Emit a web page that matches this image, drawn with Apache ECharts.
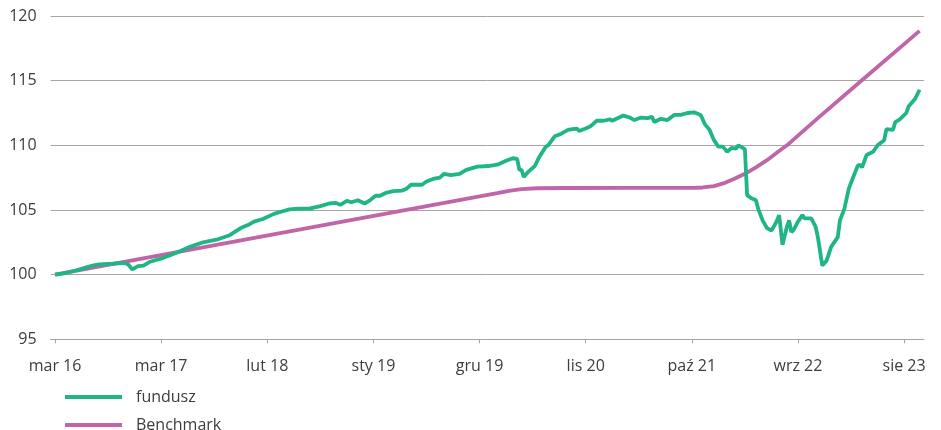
<!DOCTYPE html>
<html>
<head>
<meta charset="utf-8">
<script src="https://cdn.jsdelivr.net/npm/echarts@6/dist/echarts.min.js"></script>
<style>
  html, body { margin: 0; padding: 0; background: #fff; }
  #main { width: 941px; height: 430px; }
</style>
</head>
<body>
<div id="main"></div>
<script>
// x = tydzień od startu (co tydzień), opis co 48 tygodni
var tickWeeks = [0, 48, 96, 144, 192, 240, 288, 336, 384];
var tickLabels = ['mar 16', 'mar 17', 'lut 18', 'sty 19', 'gru 19', 'lis 20', 'paź 21', 'wrz 22', 'sie 23'];

var fundWeeks = [0, 4, 9, 13, 17, 20, 26, 31, 33, 35, 37.5, 40, 43, 49, 55, 61, 67, 73, 79, 84, 88, 90, 94, 99,
  103, 106, 110, 115, 120, 124, 127, 129, 132, 134, 137, 140, 142, 145, 147, 150, 153, 157, 159, 161, 166,
  168, 171, 174, 176, 179, 183, 186, 191, 196, 200, 204, 207, 209, 210, 211, 212, 214, 217, 219, 222, 223,
  226, 229, 232, 234, 236, 237, 240, 242, 245, 248, 251, 252, 257, 260, 262, 265, 268, 270, 271, 274, 277,
  280, 283, 286, 289, 292, 294, 296, 298, 300, 302, 304, 306, 308, 309, 311, 312, 313, 315, 317, 318, 320,
  322, 324, 326, 327.5, 329, 331, 332, 333, 334, 336, 338, 339, 342, 344, 345, 347, 349, 351, 354, 355, 357,
  359, 361, 363, 364, 365, 367, 370, 372, 375, 376, 379, 380, 382, 385, 386, 389, 391];
var fundValues = [100.0, 100.1, 100.3, 100.5, 100.7, 100.8, 100.85, 100.9, 100.8, 100.4, 100.65, 100.7, 101.0, 101.3,
  101.7, 102.15, 102.5, 102.7, 103.05, 103.6, 103.9, 104.1, 104.3, 104.7, 104.9, 105.05, 105.1, 105.1, 105.3,
  105.5, 105.55, 105.4, 105.7, 105.6, 105.75, 105.5, 105.7, 106.1, 106.1, 106.35, 106.45, 106.5, 106.65, 106.95,
  106.95, 107.2, 107.4, 107.5, 107.8, 107.7, 107.8, 108.1, 108.35, 108.4, 108.5, 108.8, 109.0, 108.95, 108.1,
  108.1, 107.55, 107.95, 108.4, 109.1, 109.9, 110.0, 110.7, 110.9, 111.2, 111.25, 111.3, 111.1, 111.3, 111.45,
  111.9, 111.9, 112.0, 111.9, 112.3, 112.15, 111.95, 112.15, 112.1, 112.2, 111.8, 112.05, 111.95, 112.35, 112.35,
  112.5, 112.55, 112.35, 111.6, 111.2, 110.4, 109.9, 109.9, 109.5, 109.8, 109.75, 110.0, 109.8, 109.7, 106.15,
  105.9, 105.75, 105.1, 104.2, 103.6, 103.4, 104.0, 104.6, 102.3, 103.7, 104.2, 103.3, 103.45, 104.1, 104.6,
  104.35, 104.35, 103.7, 102.9, 100.7, 101.1, 102.15, 102.9, 104.2, 105.1, 106.65, 107.55, 108.4, 108.5, 108.3,
  109.25, 109.5, 110.0, 110.4, 111.25, 111.2, 111.8, 112.0, 112.5, 113.0, 113.6, 114.3];

var benchWeeks = [0, 200, 206, 211, 218, 230, 260, 290, 293, 298, 303, 307, 312, 317, 322, 327, 331, 345, 364, 391];
var benchValues = [100.0, 106.3, 106.5, 106.62, 106.68, 106.7, 106.71, 106.72, 106.74, 106.85, 107.1, 107.4, 107.8,
  108.3, 108.85, 109.5, 110.0, 112.1, 114.9, 118.85];

function pairs(xs, ys) {
  return xs.map(function (x, i) { return [x, ys[i]]; });
}

var chartDom = document.getElementById('main');
var myChart = echarts.init(chartDom);
var textColor = '#3d3d3d';
var gridColor = '#a6a6a6';
var legendBase = {
  left: 60,
  itemWidth: 57,
  itemHeight: 4,
  icon: 'rect',
  textStyle: { color: textColor, fontSize: 16, fontFamily: 'Open Sans', padding: [0, 0, 0, 9] }
};
var option = {
  animation: false,
  textStyle: { fontFamily: 'Open Sans' },
  grid: { left: 50.6, right: 17, top: 16, bottom: 90.7 },
  xAxis: {
    type: 'value',
    min: -2,
    max: 393,
    axisLine: { show: true, lineStyle: { color: gridColor, width: 1 } },
    axisTick: { show: true, length: 4, customValues: tickWeeks, lineStyle: { color: gridColor } },
    axisLabel: {
      customValues: tickWeeks,
      margin: 19,
      color: textColor,
      fontSize: 16,
      fontFamily: 'Open Sans',
      formatter: function (v) {
        var i = tickWeeks.indexOf(v);
        return i >= 0 ? tickLabels[i] : '';
      }
    },
    splitLine: { show: false }
  },
  yAxis: {
    type: 'value',
    min: 95,
    max: 120,
    interval: 5,
    axisLine: { show: false },
    axisTick: { show: false },
    axisLabel: { margin: 14, color: textColor, fontSize: 16, fontFamily: 'Open Sans' },
    splitLine: { lineStyle: { color: gridColor, width: 1 } }
  },
  legend: [
    Object.assign({ top: 384, data: ['fundusz'] }, legendBase),
    Object.assign({ top: 412, data: ['Benchmark'] }, legendBase)
  ],
  series: [
    {
      name: 'Benchmark',
      type: 'line',
      showSymbol: false,
      symbol: 'none',
      color: '#c065a8',
      lineStyle: { width: 3.8, color: '#c065a8' },
      data: pairs(benchWeeks, benchValues),
      z: 2
    },
    {
      name: 'fundusz',
      type: 'line',
      showSymbol: false,
      symbol: 'none',
      color: '#1fb587',
      lineStyle: { width: 3.8, color: '#1fb587' },
      data: pairs(fundWeeks, fundValues),
      z: 3
    }
  ]
};
option && myChart.setOption(option);
</script>
</body>
</html>
